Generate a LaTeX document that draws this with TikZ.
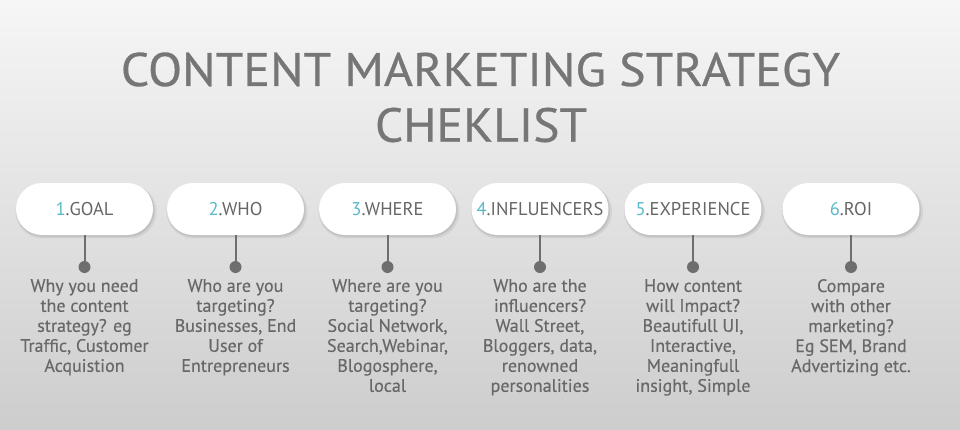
\documentclass[tikz,border=0pt]{standalone}
\usepackage{fontspec}
\setmainfont{PT Sans}
\usetikzlibrary{shadows}
\definecolor{bgtop}{HTML}{F6F6F6}
\definecolor{bgbot}{HTML}{CDCDCD}
\definecolor{titlegray}{HTML}{767676}
\definecolor{pilltext}{HTML}{666666}
\definecolor{numcol}{HTML}{5AB9C9}
\definecolor{stemcol}{HTML}{6E6E6E}
\definecolor{desctext}{HTML}{686868}
\newcommand{\numc}[1]{\textcolor{numcol}{#1}}
\tikzset{
  pill/.style={rectangle, rounded corners=26pt, minimum width=137pt, minimum height=52pt,
    fill=white, text=pilltext, font=\fontsize{18.5}{20}\selectfont, inner sep=0pt,
    drop shadow={shadow xshift=1.5pt, shadow yshift=-2.5pt, shadow scale=1.03, opacity=0.06, fill=black},
    drop shadow={shadow xshift=1pt, shadow yshift=-1.5pt, shadow scale=1.01, opacity=0.08, fill=black}},
  dotnode/.style={circle, fill=stemcol, minimum size=12pt, inner sep=0pt},
  stem/.style={draw=stemcol, line width=2pt},
  desc/.style={align=center, anchor=north, inner sep=0pt, text=desctext,
    font=\fontsize{18}{20}\selectfont\addfontfeature{FakeBold=0.4}},
  titlenode/.style={inner sep=0pt, text=titlegray}
}
\begin{document}
\begin{tikzpicture}[x=1pt,y=-1pt]
\shade[top color=bgtop, bottom color=bgbot] (0,0) rectangle (960,429);
\useasboundingbox (0,0) rectangle (960,429);

\node[titlenode] (t1) at (480.5,69.5) {\resizebox{719pt}{33.5pt}{\addfontfeature{FakeBold=0.6}CONTENT MARKETING STRATEGY}};
\node[titlenode] (t2) at (481,125) {\resizebox{212pt}{34pt}{\addfontfeature{FakeBold=0.6}CHEKLIST}};

\node[pill] (p1) at (84.5,209) {\numc{1}.GOAL};
\node[pill] (p2) at (235.5,209) {\numc{2}.WHO};
\node[pill] (p3) at (387.5,209) {\numc{3}.WHERE};
\node[pill] (p4) at (540,209) {\numc{4}.INFLUENCERS};
\node[pill] (p5) at (693,209) {\numc{5}.EXPERIENCE};
\node[pill] (p6) at (851,209) {\numc{6}.ROI};

\node[dotnode] (d1) at (84.5,267) {};
\node[dotnode] (d2) at (235.5,267) {};
\node[dotnode] (d3) at (387.5,267) {};
\node[dotnode] (d4) at (540,267) {};
\node[dotnode] (d5) at (693,267) {};
\node[dotnode] (d6) at (851,267) {};

\foreach \i in {1,...,6} {\draw[stem] (p\i.south) -- (d\i);}

\node[desc] (q1) at (84.5,279) {Why you need\\the content\\strategy? eg\\Traffic, Customer\\Acquistion};
\node[desc] (q2) at (235.5,279) {Who are you\\targeting?\\Businesses, End\\User of\\Entrepreneurs};
\node[desc] (q3) at (387.5,279) {Where are you\\targeting?\\Social Network,\\Search,Webinar,\\Blogosphere,\\local};
\node[desc] (q4) at (540,279) {Who are the\\influencers?\\Wall Street,\\Bloggers, data,\\renowned\\personalities};
\node[desc] (q5) at (693,279) {How content\\will Impact?\\Beautifull UI,\\Interactive,\\Meaningfull\\insight, Simple};
\node[desc] (q6) at (851,279) {Compare\\with other\\marketing?\\Eg SEM, Brand\\Advertizing etc.};
\end{tikzpicture}
\end{document}
